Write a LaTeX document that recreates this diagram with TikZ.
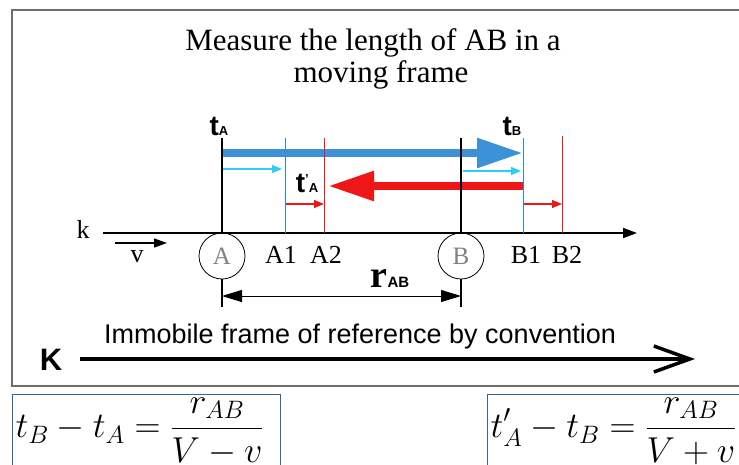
\RequirePackage{fix-cm}
\documentclass[tikz,border=0pt]{standalone}
\usepackage{amsmath}
\usepackage{fontspec}
\setmainfont{Liberation Serif}
\setsansfont{Liberation Sans}
\usetikzlibrary{arrows.meta}

\definecolor{fatblue}{RGB}{60,145,215}
\definecolor{lightcyan}{RGB}{45,205,245}
\definecolor{lineblue}{RGB}{50,135,205}
\definecolor{fatred}{RGB}{238,22,22}
\definecolor{boxblue}{RGB}{45,105,150}
\definecolor{framegray}{RGB}{110,110,110}

% time marks: bold t with a small index
\newcommand{\tmark}[2]{{\sffamily\bfseries\fontsize{28}{28}\selectfont t\fontsize{13}{13}\selectfont #1#2}}

\begin{document}
\begin{tikzpicture}[x=1pt, y=-1pt,
    tick/.style={line width=1.6pt},
    bluetick/.style={draw=lineblue, line width=1pt},
    redtick/.style={draw=fatred, line width=1pt},
    fatarrow/.style={line width=8.5pt, -{Triangle[length=46pt, width=28pt]}},
    thinarrow/.style={line width=1.3pt, -{Triangle[length=10pt, width=8pt]}},
    ptcircle/.style={circle, draw, line width=0.8pt, minimum size=46pt, inner sep=0pt, text=gray, font=\fontsize{25}{25}\selectfont},
    axlab/.style={anchor=base, font=\fontsize{26}{26}\selectfont},
    formbox/.style={draw=boxblue, line width=1.2pt, anchor=north west, minimum height=72pt, inner xsep=3pt, align=left, font=\fontsize{36}{40}\selectfont}]
    \useasboundingbox (0,0) rectangle (739,464);

    % Frame
    \draw[framegray, line width=2pt] (12,10) rectangle (760,386);

    % Draw nodes
    \coordinate (kstart) at (103,233);
    \coordinate (kend) at (637,233);
    \coordinate (Aax) at (222,233);
    \coordinate (A1ax) at (285,233);
    \coordinate (A2ax) at (324,233);
    \coordinate (Bax) at (461,233);
    \coordinate (B1ax) at (523,233);
    \coordinate (B2ax) at (562,233);
    \coordinate (rowtop) at (0,138);
    \coordinate (rowfat) at (0,153);
    \coordinate (rowred) at (0,186);
    \coordinate (rowsmall) at (0,204);
    \coordinate (rowdim) at (0,296);
    \coordinate (rowstub) at (0,307);
    \coordinate (redtip) at (328,186);
    \coordinate (cyanAs) at (222,169);
    \coordinate (cyanAe) at (282,169);
    \coordinate (cyanBs) at (463,171);
    \coordinate (cyanBe) at (521,171);
    \coordinate (vstart) at (115,243);
    \coordinate (vend) at (167,243);
    \coordinate (Kstart) at (80,359);
    \coordinate (Kend) at (695,359);

    \node[ptcircle] (A) at (222,256) {A};
    \node[ptcircle] (B) at (461,256) {B};

    % Draw connections
    \draw[line width=2pt, -{Triangle[length=14pt, width=10pt]}] (kstart) -- (kend);
    \draw[fatarrow, fatblue] (Aax |- rowfat) -- (B1ax |- rowfat);
    \draw[fatarrow, fatred] (B1ax |- rowred) -- (redtip);
    \draw[thinarrow, lightcyan] (cyanAs) -- (cyanAe);
    \draw[thinarrow, lightcyan] (cyanBs) -- (cyanBe);
    \draw[thinarrow, fatred] (A1ax |- rowsmall) -- (A2ax |- rowsmall);
    \draw[thinarrow, fatred] (B1ax |- rowsmall) -- (B2ax |- rowsmall);
    \foreach \p in {Aax,Bax} \draw[tick] (\p |- rowtop) -- (\p);
    \foreach \p in {A1ax,B1ax} \draw[bluetick] (\p |- rowtop) -- (\p);
    \draw[redtick] (A2ax |- rowtop) -- (A2ax);
    \draw[redtick] (B2ax |- 0,136) -- (B2ax);
    \draw[line width=1.2pt, -{Triangle[length=13pt, width=9pt]}] (vstart) -- (vend);
    \draw[tick] (A.south) -- (A.south |- rowstub);
    \draw[tick] (B.south) -- (B.south |- rowstub);
    \draw[line width=1pt, {Triangle[length=20pt, width=12pt]}-{Triangle[length=20pt, width=12pt]}] (Aax |- rowdim) -- (Bax |- rowdim);
    \draw[line width=3.5pt, -{Straight Barb[length=36pt, width=26pt]}] (Kstart) -- (Kend);

    % Labels
    \node[anchor=base, font=\fontsize{31}{31}\selectfont] (title) at (373,50) {Measure the length of AB in a};
    \node[anchor=base, font=\fontsize{31}{31}\selectfont] (titletwo) at (381,82) {moving frame};
    \node[anchor=base] (tA) at (219,135) {\tmark{}{A}};
    \node[anchor=base] (tB) at (512,135) {\tmark{}{B}};
    \node[anchor=base] (tAprime) at (307,192) {\tmark{\raisebox{9pt}{'}}{A}};
    \node[axlab] (klab) at (83,238) {k};
    \node[axlab] (vlab) at (137,262) {v};
    \node[axlab] (A1) at (281,263) {A1};
    \node[axlab] (A2) at (326,263) {A2};
    \node[axlab] (B1) at (526,263) {B1};
    \node[axlab] (B2) at (567,263) {B2};
    \node[anchor=base] (rAB) at (390,287) {{\bfseries\fontsize{38}{38}\selectfont r}{\sffamily\bfseries\fontsize{15}{15}\selectfont AB}};
    \node[anchor=base, font=\sffamily\fontsize{27}{27}\selectfont] (immobile) at (360,343) {Immobile frame of reference by convention};
    \node[anchor=base, font=\sffamily\bfseries\fontsize{31}{31}\selectfont] (K) at (51,370) {K};
    \node[formbox, text width=262pt] (eqone) at (12,394) {$\displaystyle t_B - t_A = \frac{r_{AB}}{V - v}$};
    \node[formbox, text width=320pt] (eqtwo) at (487,394) {$\displaystyle t'_A - t_B = \frac{r_{AB}}{V + v}$};
\end{tikzpicture}
\end{document}
